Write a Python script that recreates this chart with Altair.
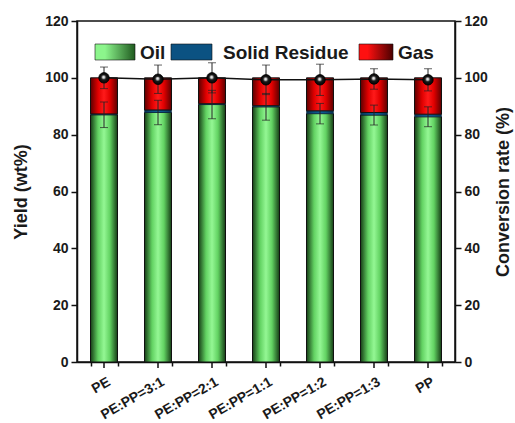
import altair as alt
import pandas as pd

# Pyrolysis product yields of PE/PP blends
samples = ["PE", "PE:PP=3:1", "PE:PP=2:1", "PE:PP=1:1", "PE:PP=1:2", "PE:PP=1:3", "PP"]
oil = [87.0, 87.8, 90.6, 89.8, 87.4, 86.9, 86.3]
residue = [0.3, 0.9, 0.3, 0.4, 1.0, 0.9, 0.9]
gas = [12.7, 11.3, 9.1, 9.8, 11.6, 12.2, 12.8]
oil_err = [4.5, 4.3, 5.0, 4.7, 3.6, 3.5, 3.5]
conversion = [100.0, 99.5, 100.0, 99.3, 99.3, 99.6, 99.3]
conversion_err = [3.8, 5.0, 5.3, 5.2, 5.5, 3.6, 3.9]

series_names = ["Oil", "Solid Residue", "Gas"]

FONT = "Liberation Sans"
PLOT_W, PLOT_H = 378, 341

df = pd.DataFrame({
    "sample": samples,
    "oil": oil,
    "residue": residue,
    "gas": gas,
    "oil_err": oil_err,
    "conversion": conversion,
    "conversion_err": conversion_err,
})
legend_df = pd.DataFrame({"series": series_names})


def bar_gradient(edge, mid, center):
    return alt.LinearGradient(
        gradient="linear", x1=0, x2=1, y1=0, y2=0,
        stops=[
            alt.GradientStop(offset=0.0, color=edge),
            alt.GradientStop(offset=0.28, color=mid),
            alt.GradientStop(offset=0.5, color=center),
            alt.GradientStop(offset=0.72, color=mid),
            alt.GradientStop(offset=1.0, color=edge),
        ],
    )


def swatch_gradient(left, right):
    return alt.LinearGradient(
        gradient="linear", x1=0, x2=1, y1=0, y2=0,
        stops=[alt.GradientStop(offset=0.0, color=left),
               alt.GradientStop(offset=0.25, color=left),
               alt.GradientStop(offset=1.0, color=right)],
    )


green_fill = bar_gradient("#163d16", "#62d262", "#94f794")
red_fill = bar_gradient("#5c0000", "#e00000", "#ff1a1a")
navy_fill = bar_gradient("#06324f", "#0b5282", "#0f5f93")

sphere = alt.RadialGradient(
    gradient="radial", x1=0.45, y1=0.42, r1=0.0, x2=0.5, y2=0.5, r2=0.55,
    stops=[
        alt.GradientStop(offset=0.0, color="#ffffff"),
        alt.GradientStop(offset=0.22, color="#cccccc"),
        alt.GradientStop(offset=0.42, color="#1a1a1a"),
        alt.GradientStop(offset=1.0, color="#000000"),
    ],
)

ticks_10 = list(range(0, 121, 10))
major_tick = {"condition": {"test": "datum.value % 20 === 0", "value": 6}, "value": 3}
even_label = "datum.value % 20 === 0 ? datum.label : ''"

# category axis: short ticks on the band boundaries; labels are drawn as rotated text below
x_enc = alt.X(
    "sample:N", sort=samples, title=None,
    scale=alt.Scale(paddingInner=0.5, paddingOuter=0.25),
    axis=alt.Axis(labels=False, tickBand="extent", tickSize=4),
)

y_left = alt.Y(
    "top:Q", title="Yield (wt%)",
    scale=alt.Scale(domain=[0, 120], nice=False),
    axis=alt.Axis(values=ticks_10, labelExpr=even_label, tickSize=major_tick,
                  titlePadding=14, grid=False),
)
y_left_plain = alt.Y("bottom:Q", scale=alt.Scale(domain=[0, 120], nice=False))

base = alt.Chart(df).encode(x=x_enc)

oil_bar = base.mark_bar(fill=green_fill, stroke="#111111", strokeWidth=1).transform_calculate(
    top="datum.oil", bottom="0"
).encode(y=y_left, y2="bottom:Q")

residue_bar = base.mark_bar(fill=navy_fill, stroke="#0a2a40", strokeWidth=0.5).transform_calculate(
    top="datum.oil + datum.residue", bottom="datum.oil"
).encode(y=y_left, y2="bottom:Q")

gas_bar = base.mark_bar(fill=red_fill, stroke="#111111", strokeWidth=1).transform_calculate(
    top="datum.oil + datum.residue + datum.gas", bottom="datum.oil + datum.residue"
).encode(y=y_left, y2="bottom:Q")

oil_err_base = base.transform_calculate(
    top="datum.oil + datum.oil_err", bottom="datum.oil - datum.oil_err"
)
oil_err_rule = oil_err_base.mark_rule(color="#222222", strokeWidth=1).encode(y=y_left, y2="bottom:Q")
oil_err_hi = oil_err_base.mark_tick(color="#222222", size=8, thickness=1).encode(y=y_left)
oil_err_lo = oil_err_base.mark_tick(color="#222222", size=8, thickness=1).encode(y=y_left_plain)

# ticks at the category centres and their rotated labels
center_ticks = base.mark_rule(color="#111111", strokeWidth=1.5).encode(
    y=alt.value(PLOT_H), y2=alt.value(PLOT_H + 6)
)
x_labels = base.mark_text(
    align="right", baseline="top", dx=2, dy=0,
    font=FONT, fontSize=14, fontWeight="bold", color="#1a1a1a",
).encode(y=alt.value(PLOT_H + 14), text="sample:N", angle=alt.value(330))


# legend key drawn inside the plot frame
def legend_item(name, fill, x0, x1, text_x):
    item = alt.Chart(legend_df).transform_filter(alt.datum.series == name)
    swatch = item.mark_rect(fill=fill, stroke="#111111", strokeWidth=0.6).encode(
        x=alt.value(x0), x2=alt.value(x1), y=alt.value(23), y2=alt.value(39)
    )
    label = item.mark_text(
        align="left", baseline="middle", font=FONT, fontSize=19, fontWeight="bold",
        color="#1a1a1a",
    ).encode(x=alt.value(text_x), y=alt.value(31.5), text="series:N")
    return swatch + label


legend_layer = alt.layer(
    legend_item("Oil", swatch_gradient("#8cf58c", "#1f5a1f"), 18, 58, 63),
    legend_item("Solid Residue", "#0b5282", 94, 135, 146),
    legend_item("Gas", swatch_gradient("#ff1010", "#4a0000"), 282, 316, 321),
)

bars = alt.layer(oil_bar, residue_bar, gas_bar, oil_err_rule, oil_err_hi, oil_err_lo,
                 center_ticks, x_labels, legend_layer)

y_scale_r = alt.Scale(domain=[0, 120], nice=False)
y_right = alt.Y(
    "conversion:Q", title="Conversion rate (%)", scale=y_scale_r,
    axis=alt.Axis(orient="right", values=ticks_10, labelExpr=even_label, tickSize=major_tick,
                  titlePadding=25, titleAngle=270, grid=False),
)

conv_err = base.transform_calculate(
    c_hi="datum.conversion + datum.conversion_err",
    c_lo="datum.conversion - datum.conversion_err",
)
conv_line = base.mark_line(color="#111111", strokeWidth=1.5).encode(y=y_right)
conv_rule = conv_err.mark_rule(color="#222222", strokeWidth=1).encode(
    y=alt.Y("c_lo:Q", scale=y_scale_r), y2="c_hi:Q"
)
conv_hi = conv_err.mark_tick(color="#222222", size=8, thickness=1).encode(
    y=alt.Y("c_hi:Q", scale=y_scale_r)
)
conv_lo = conv_err.mark_tick(color="#222222", size=8, thickness=1).encode(
    y=alt.Y("c_lo:Q", scale=y_scale_r)
)
conv_pts = base.mark_point(filled=True, fill=sphere, size=110, stroke="#000000",
                           strokeWidth=0.8, opacity=1).encode(
    y=alt.Y("conversion:Q", scale=y_scale_r)
)

conv = alt.layer(conv_line, conv_rule, conv_hi, conv_lo, conv_pts)

chart = alt.layer(bars, conv).resolve_scale(y="independent").properties(
    width=PLOT_W, height=PLOT_H,
    padding={"left": 77, "top": 21, "right": 60, "bottom": 61},
    autosize=alt.AutoSizeParams(type="none"),
    background="white",
).configure_view(
    stroke="#111111", strokeWidth=1.5
).configure_axis(
    labelFont=FONT, labelFontSize=14, labelFontWeight="bold", labelColor="#1a1a1a",
    titleFont=FONT, titleFontSize=18, titleFontWeight="bold", titleColor="#1a1a1a",
    domainColor="#111111", domainWidth=1.5, tickColor="#111111", tickWidth=1.5,
    labelPadding=3,
)

chart.save("out.html", embed_options={"renderer": "svg", "actions": False})
